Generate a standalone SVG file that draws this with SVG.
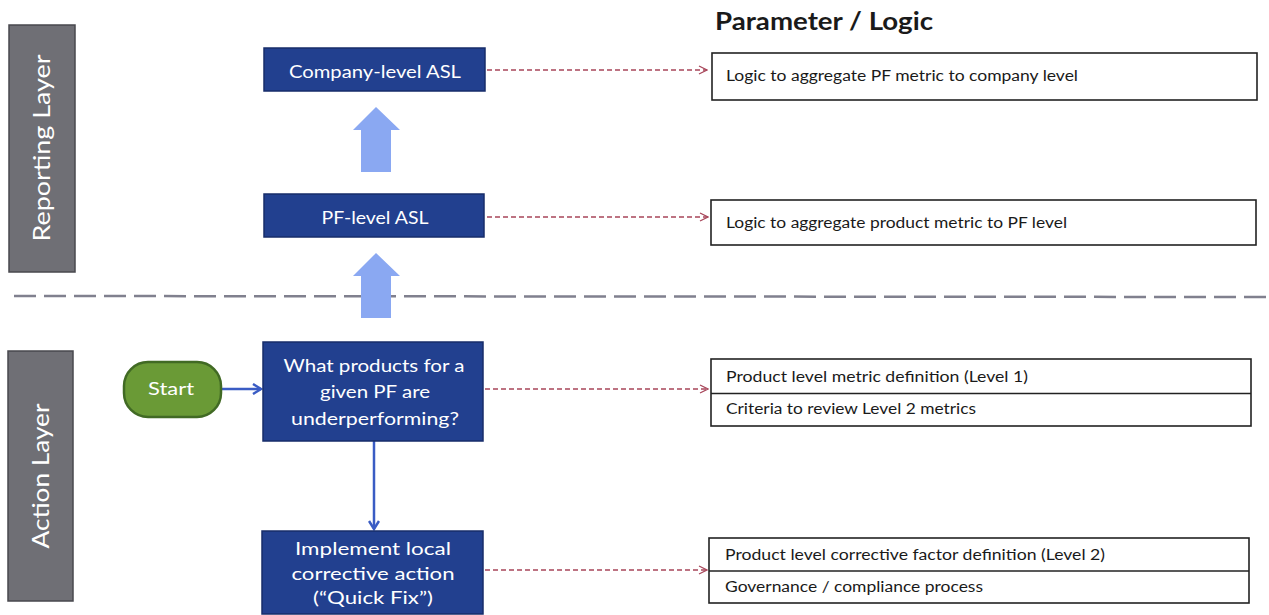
<svg xmlns="http://www.w3.org/2000/svg" width="1269" height="615" viewBox="0 0 1269 615">
  <defs>
    <style>
      .layer { fill: #6f6f75; stroke: #48484e; stroke-width: 1.5; }
      .layer-txt { font-family: Lato, "Liberation Sans", sans-serif; font-size: 23px; fill: #ffffff; text-anchor: middle; }
      .step { fill: #22408f; stroke: #172d6a; stroke-width: 1.5; }
      .step-txt { font-family: Lato, "Liberation Sans", sans-serif; font-size: 17px; fill: #ffffff; text-anchor: middle; }
      .start { fill: #6a9a36; stroke: #416a24; stroke-width: 2.5; }
      .param { fill: #ffffff; stroke: #222222; stroke-width: 1.6; }
      .param-txt { font-family: Lato, "Liberation Sans", sans-serif; font-size: 14.5px; fill: #1a1a1a; }
      .flow { stroke: #3a5cc4; stroke-width: 2.5; fill: none; }
      .link { stroke: #a8465a; stroke-width: 1.4; stroke-dasharray: 5 3; fill: none; }
      .up { fill: #8aa8f2; }
    </style>
    <marker id="open-red" viewBox="0 0 10 10" refX="9" refY="5" markerWidth="10" markerHeight="10" markerUnits="userSpaceOnUse" orient="auto">
      <path d="M1,1 L9,5 L1,9" fill="none" stroke="#a8465a" stroke-width="1.3"/>
    </marker>
    <marker id="open-blue" viewBox="0 0 12 12" refX="10" refY="6" markerWidth="12" markerHeight="12" markerUnits="userSpaceOnUse" orient="auto">
      <path d="M2,1 L10,6 L2,11" fill="none" stroke="#3a5cc4" stroke-width="2.5"/>
    </marker>
  </defs>

  <rect width="1269" height="615" fill="#ffffff"/>

  <!-- layer divider -->
  <line x1="14" y1="296" x2="1269" y2="297" stroke="#80808e" stroke-width="2.5" stroke-dasharray="22 8"/>

  <!-- layer labels -->
  <g id="reporting-layer">
    <rect class="layer" x="9" y="25" width="66" height="247"/>
    <text class="layer-txt" transform="translate(50,148) rotate(-90)" textLength="187" lengthAdjust="spacingAndGlyphs">Reporting Layer</text>
  </g>
  <g id="action-layer">
    <rect class="layer" x="8" y="351" width="65" height="250"/>
    <text class="layer-txt" transform="translate(49,476) rotate(-90)" textLength="145" lengthAdjust="spacingAndGlyphs">Action Layer</text>
  </g>

  <!-- heading -->
  <text id="heading" x="715" y="30" font-family="Lato, 'Liberation Sans', sans-serif" font-weight="bold" font-size="25" fill="#1a1a1a" textLength="218" lengthAdjust="spacingAndGlyphs">Parameter / Logic</text>

  <!-- connectors -->
  <g id="connectors">
    <path class="up" d="M376,107 L400,130 L391,130 L391,172 L361,172 L361,130 L353,130 Z"/>
    <path class="up" d="M376,253 L400,276 L391,276 L391,318 L361,318 L361,276 L353,276 Z"/>
    <line class="flow" x1="221" y1="389" x2="261" y2="389" marker-end="url(#open-blue)"/>
    <line class="flow" x1="374" y1="441" x2="374" y2="529" marker-end="url(#open-blue)"/>
    <line class="link" x1="487" y1="70" x2="707" y2="70" marker-end="url(#open-red)"/>
    <line class="link" x1="487" y1="217" x2="708" y2="217" marker-end="url(#open-red)"/>
    <line class="link" x1="485" y1="389" x2="708" y2="389" marker-end="url(#open-red)"/>
    <line class="link" x1="485" y1="570" x2="707" y2="570" marker-end="url(#open-red)"/>
  </g>

  <!-- flow nodes -->
  <g id="company-asl">
    <rect class="step" x="264" y="48" width="221" height="43"/>
    <text class="step-txt" x="375" y="78" textLength="172" lengthAdjust="spacingAndGlyphs">Company-level ASL</text>
  </g>
  <g id="pf-asl">
    <rect class="step" x="264" y="194" width="220" height="43"/>
    <text class="step-txt" x="375" y="224" textLength="107" lengthAdjust="spacingAndGlyphs">PF-level ASL</text>
  </g>
  <g id="start">
    <rect class="start" x="124" y="362" width="97" height="55" rx="24" ry="24"/>
    <text class="step-txt" x="171" y="395" font-size="18" textLength="46" lengthAdjust="spacingAndGlyphs">Start</text>
  </g>
  <g id="underperforming">
    <rect class="step" x="263" y="342" width="220" height="99"/>
    <text class="step-txt" x="374" y="372" textLength="181" lengthAdjust="spacingAndGlyphs">What products for a</text>
    <text class="step-txt" x="375" y="398" textLength="110" lengthAdjust="spacingAndGlyphs">given PF are</text>
    <text class="step-txt" x="375" y="425" textLength="168" lengthAdjust="spacingAndGlyphs">underperforming?</text>
  </g>
  <g id="quick-fix">
    <rect class="step" x="262" y="531" width="221" height="83"/>
    <text class="step-txt" x="373" y="555" textLength="156" lengthAdjust="spacingAndGlyphs">Implement local</text>
    <text class="step-txt" x="373" y="580" textLength="163" lengthAdjust="spacingAndGlyphs">corrective action</text>
    <text class="step-txt" x="373" y="604" textLength="120" lengthAdjust="spacingAndGlyphs">(“Quick Fix”)</text>
  </g>

  <!-- parameter / logic boxes -->
  <g id="param-company">
    <rect class="param" x="712" y="53" width="545" height="47"/>
    <text class="param-txt" x="726" y="81" textLength="352" lengthAdjust="spacingAndGlyphs">Logic to aggregate PF metric to company level</text>
  </g>
  <g id="param-pf">
    <rect class="param" x="711" y="200" width="545" height="45"/>
    <text class="param-txt" x="726" y="228" textLength="341" lengthAdjust="spacingAndGlyphs">Logic to aggregate product metric to PF level</text>
  </g>
  <g id="param-underperforming">
    <rect class="param" x="711" y="359" width="540" height="67"/>
    <line x1="711" y1="393.5" x2="1251" y2="393.5" stroke="#222222" stroke-width="1.6"/>
    <text class="param-txt" x="726" y="382" textLength="302" lengthAdjust="spacingAndGlyphs">Product level metric definition (Level 1)</text>
    <text class="param-txt" x="726" y="414" textLength="250" lengthAdjust="spacingAndGlyphs">Criteria to review Level 2 metrics</text>
  </g>
  <g id="param-quick-fix">
    <rect class="param" x="709" y="538" width="540" height="65"/>
    <line x1="709" y1="571" x2="1249" y2="571" stroke="#222222" stroke-width="1.6"/>
    <text class="param-txt" x="725" y="560" textLength="380" lengthAdjust="spacingAndGlyphs">Product level corrective factor definition (Level 2)</text>
    <text class="param-txt" x="725" y="592" textLength="258" lengthAdjust="spacingAndGlyphs">Governance / compliance process</text>
  </g>
</svg>
